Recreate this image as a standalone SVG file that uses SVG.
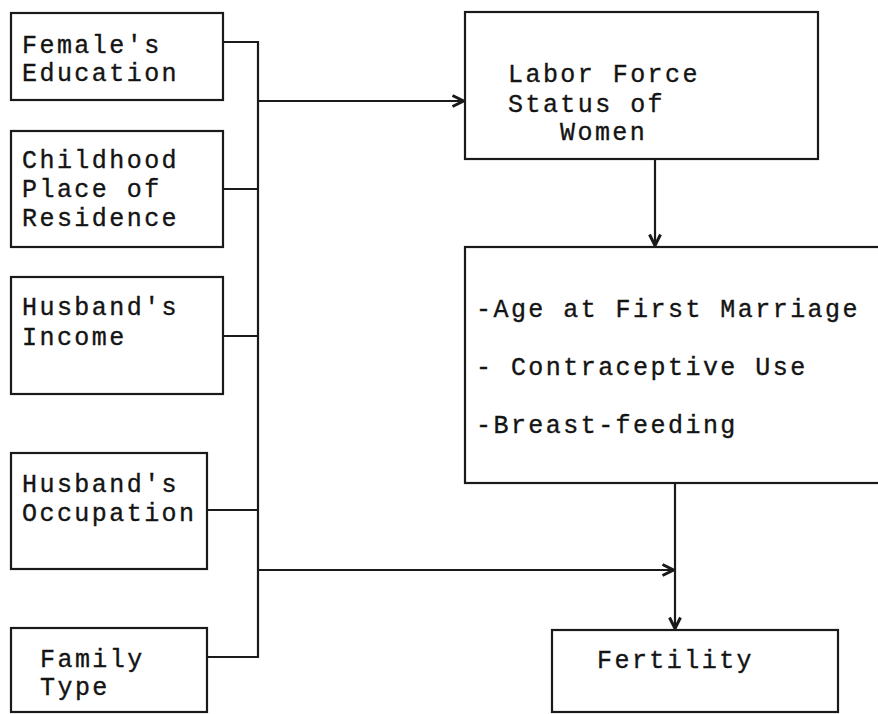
<svg xmlns="http://www.w3.org/2000/svg" width="878" height="714" viewBox="0 0 878 714">
<defs>
<style>
.box{fill:#fff;stroke:#1a1a1a;stroke-width:2.2}
.t{font-family:"Liberation Mono","Courier New",monospace;font-size:25px;letter-spacing:2.45px;fill:#141414;stroke:#141414;stroke-width:0.35}
.ln{fill:none;stroke:#1a1a1a;stroke-width:2.2}
</style>
<marker id="ah" viewBox="0 0 14 14" refX="13" refY="7" markerWidth="14" markerHeight="14" markerUnits="userSpaceOnUse" orient="auto">
<path d="M1.5,1.5 L12.5,7 L1.5,12.5" fill="none" stroke="#1a1a1a" stroke-width="3"/>
</marker>
</defs>
<rect width="878" height="714" fill="#fff"/>
<g id="connectors">
<path class="ln" d="M223,42 H258 V657 H207"/>
<path class="ln" d="M223,189 H258"/>
<path class="ln" d="M223,336 H258"/>
<path class="ln" d="M207,510 H258"/>
<path class="ln" d="M258,101 H464" marker-end="url(#ah)"/>
<path class="ln" d="M655,159 V246" marker-end="url(#ah)"/>
<path class="ln" d="M259,570 H674" marker-end="url(#ah)"/>
<path class="ln" d="M675,483 V629" marker-end="url(#ah)"/>
</g>
<g id="female-education">
<rect class="box" x="11" y="13" width="212" height="87"/>
<text class="t" x="22" y="53">Female's</text>
<text class="t" x="22" y="81">Education</text>
</g>
<g id="childhood-residence">
<rect class="box" x="11" y="131" width="212" height="116"/>
<text class="t" x="22" y="168">Childhood</text>
<text class="t" x="22" y="197">Place of</text>
<text class="t" x="22" y="226">Residence</text>
</g>
<g id="husband-income">
<rect class="box" x="11" y="277" width="212" height="117"/>
<text class="t" x="22" y="315">Husband's</text>
<text class="t" x="22" y="345">Income</text>
</g>
<g id="husband-occupation">
<rect class="box" x="11" y="453" width="196" height="116"/>
<text class="t" x="22" y="492">Husband's</text>
<text class="t" x="22" y="521">Occupation</text>
</g>
<g id="family-type">
<rect class="box" x="11" y="628" width="196" height="84"/>
<text class="t" x="40" y="667">Family</text>
<text class="t" x="40" y="695">Type</text>
</g>
<g id="labor-force">
<rect class="box" x="465" y="12" width="353" height="147"/>
<text class="t" x="508" y="82">Labor Force</text>
<text class="t" x="508" y="112">Status of</text>
<text class="t" x="560" y="140">Women</text>
</g>
<g id="intermediate">
<rect class="box" x="465" y="247" width="420" height="236"/>
<text class="t" x="476" y="317">-Age at First Marriage</text>
<text class="t" x="476" y="375">- Contraceptive Use</text>
<text class="t" x="476" y="433">-Breast-feeding</text>
</g>
<g id="fertility">
<rect class="box" x="552" y="630" width="286" height="82"/>
<text class="t" x="597" y="668">Fertility</text>
</g>
</svg>
